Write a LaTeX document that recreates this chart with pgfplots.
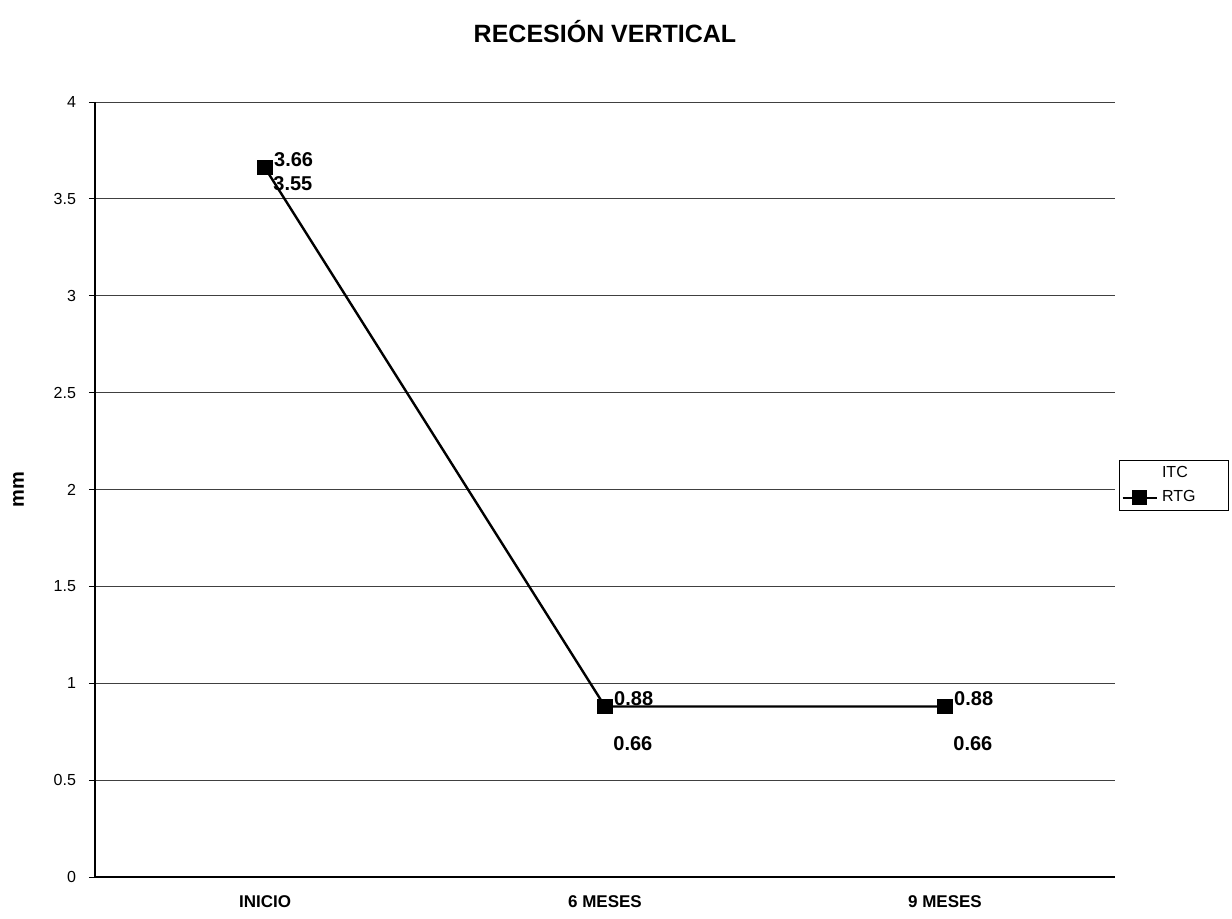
\documentclass[border=0pt]{standalone}
\usepackage{fontspec}
\setmainfont{Liberation Sans}
\usepackage{pgfplots}
\pgfplotsset{compat=1.18}

\pgfplotstableread{
x  rtg   itc
0  3.66  3.55
1  0.88  0.66
2  0.88  0.66
}\recesion

\begin{document}
\begin{tikzpicture}
\begin{axis}[
    at={(0,0)}, anchor=south west,
    scale only axis,
    width=510pt, height=387.5pt,
    xmin=-0.5, xmax=2.5,
    ymin=0, ymax=4,
    xtick={0,1,2},
    xticklabels={INICIO, 6 MESES, 9 MESES},
    x tick label style={font=\bfseries\fontsize{8.5}{9}\selectfont, yshift=-3pt},
    major x tick style={draw=none},
    ytick={0,0.5,...,4},
    yticklabel style={font=\fontsize{8}{9}\selectfont, xshift=-3pt},
    /pgf/number format/assume math mode=true,
    y tick style={black, thin},
    tick align=outside,
    major tick length=3pt,
    axis x line*=bottom, axis y line*=left,
    axis line style={black, line width=0.7pt, -},
    ymajorgrids,
    grid style={black!75, line width=0.5pt},
    title={RECESIÓN VERTICAL},
    title style={font=\bfseries\fontsize{12.5}{14}\selectfont, yshift=20pt},
    ylabel={mm},
    ylabel style={font=\bfseries\fontsize{10}{12}\selectfont,
        at={(axis description cs:-0.075,0.5)}, anchor=center},
    legend style={at={(1.004,0.538)}, anchor=north west, draw=black,
        font=\fontsize{8}{9}\selectfont, inner sep=1pt,
        row sep=1pt, legend cell align=left,
        nodes={text width=30pt}},
    clip=false,
]
\addplot[draw=none, mark=none,
    nodes near coords,
    point meta=explicit symbolic,
    legend image code/.code={},
    every node near coord/.append style={anchor=west, xshift=3pt, yshift=3pt,
        font=\bfseries\fontsize{10}{12}\selectfont, inner sep=1pt, black}]
    table[x=x, y=itc, meta=itc] {\recesion};
\addlegendentry{ITC}
\addplot[black, line width=1.2pt, mark=square*, mark size=3.2pt,
    nodes near coords,
    point meta=explicit symbolic,
    every node near coord/.append style={anchor=west, xshift=3pt, yshift=4pt,
        font=\bfseries\fontsize{10}{12}\selectfont, inner sep=1pt, black}]
    table[x=x, y=rtg, meta=rtg] {\recesion};
\addlegendentry{RTG}
\end{axis}
\useasboundingbox (-47.5pt,-20.5pt) rectangle (568.5pt,438.5pt);
\end{tikzpicture}
\end{document}
